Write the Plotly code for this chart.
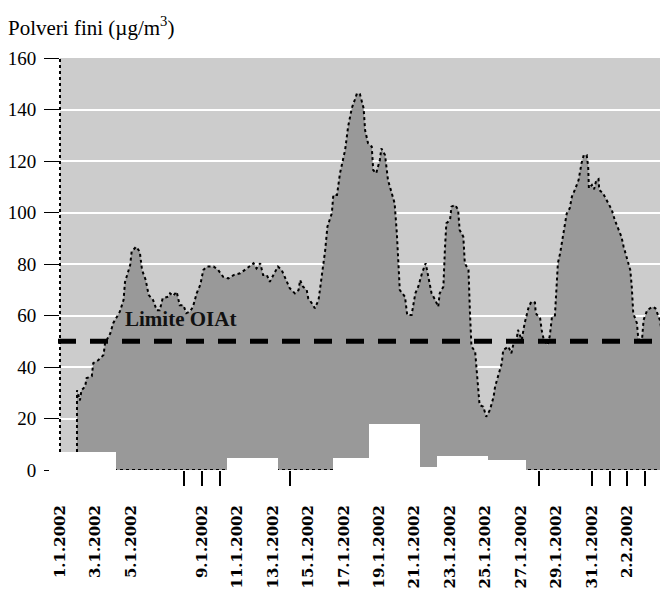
import pandas as pd
import plotly.graph_objects as go

# ---------------- data ----------------
series_start = "2002-01-01 00:00"
# hours since 1.1.2002 00:00
hours = [23, 27, 29, 34, 36, 43, 45, 52, 59, 61, 68, 72, 81, 86, 88, 95, 97, 103, 108, 111,
         116, 120, 126, 131, 135, 139, 147, 149, 153, 158, 160, 162, 167, 171, 176, 180, 185, 190, 194, 199,
         208, 214, 221, 228, 235, 244, 253, 262, 266, 271, 275, 280, 284, 289, 295, 300, 305, 311, 318, 323,
         325, 329, 334, 336, 341, 345, 350, 352, 356, 359, 362, 368, 370, 375, 379, 381, 386, 390, 395, 399,
         402, 406, 411, 413, 417, 422, 424, 428, 433, 435, 440, 444, 449, 453, 456, 458, 460, 467, 470, 476,
         481, 485, 490, 495, 499, 503, 508, 512, 514, 519, 521, 523, 528, 530, 535, 539, 541, 546, 548, 553,
         555, 557, 562, 564, 566, 568, 573, 577, 582, 587, 589, 593, 598, 600, 607, 611, 614, 618, 620, 625,
         629, 634, 638, 643, 644, 650, 652, 655, 660, 663, 666, 670, 672, 674, 677, 681, 686, 690, 693, 697,
         702, 706, 709, 713, 715, 716, 720, 723, 726, 729, 730, 735, 740, 747, 751, 756, 760, 763, 767, 772,
         774, 776, 781, 783, 788, 790, 795, 802, 806, 809, 812, 815, 816]
pm10 = [31, 27, 31, 32.4, 35.7, 36.4, 41.5, 42.7, 44.7, 49.3, 53, 57, 61.5, 66, 73, 79.6, 84.8, 86.7, 84.8, 77.7,
        73.8, 68, 66, 62, 62, 66.7, 67.3, 68.6, 67.6, 69.2, 66, 64, 64, 60.9, 61.5, 63.4, 68.6, 72, 77.7, 79,
        79, 77.7, 75, 74.4, 75.7, 76.4, 78.3, 80.3, 78.3, 80.3, 75.7, 75.7, 73.1, 75.7, 79, 77.7, 74.4, 70.6, 68.6, 69.9,
        73.8, 71.2, 69.9, 66.7, 64.7, 62.8, 66, 69.9, 77.7, 85.4, 94.5, 99.7, 106.8, 106.8, 115.2, 117.8, 124.3, 133.3, 140.5, 143.7,
        146.3, 146, 140.5, 132, 126.9, 125.6, 116.5, 115.2, 120.4, 124.9, 122.3, 112.6, 107.5, 103.6, 91.9, 79, 69.9, 67.3, 60.2, 60.2,
        68.6, 71.2, 76.4, 80.3, 73.8, 68.6, 66, 63.4, 68.6, 71.2, 85.4, 95.8, 97.1, 102.3, 102.9, 101, 93.2, 90.6, 80.3, 77.7,
        60.9, 48, 46, 38.8, 31.1, 25.2, 24.6, 20.7, 23.3, 28.5, 32.4, 36.2, 41.4, 46.6, 47.9, 45.3, 49.2, 50.5, 54.4, 50.5,
        57, 62.8, 65.4, 65, 60.9, 58.9, 54.4, 50.5, 48.5, 52, 59.5, 60, 71.2, 80.3, 84.1, 90.6, 99.7, 101.6, 106.2, 108.8,
        112.6, 119.1, 122.3, 122.3, 117.8, 109.4, 110.7, 109, 112.6, 113, 108.8, 107.5, 104.9, 101, 97.1, 93.2, 90.6, 86.7, 82.8, 77.7,
        71.2, 60.9, 57, 50.5, 51, 58.3, 62.1, 63.4, 62.8, 60.2, 58.3, 53.1, 52]

tick_dates = ["2002-01-01", "2002-01-03", "2002-01-05", "2002-01-09", "2002-01-11", "2002-01-13",
              "2002-01-15", "2002-01-17", "2002-01-19", "2002-01-21", "2002-01-23", "2002-01-25",
              "2002-01-27", "2002-01-29", "2002-01-31", "2002-02-02", "2002-02-04"]
tick_labels = ["1.1.2002", "3.1.2002", "5.1.2002", "9.1.2002", "11.1.2002", "13.1.2002",
               "15.1.2002", "17.1.2002", "19.1.2002", "21.1.2002", "23.1.2002", "25.1.2002",
               "27.1.2002", "29.1.2002", "31.1.2002", "2.2.2002", "4.2.2002"]
day_tick_dates = ["2002-01-08", "2002-01-09", "2002-01-10", "2002-01-14", "2002-01-28",
                  "2002-01-31", "2002-02-01", "2002-02-02", "2002-02-03", "2002-02-04"]
y_ticks = [0, 20, 40, 60, 80, 100, 120, 140, 160]
x_range = ["2002-01-01 00:00", "2002-02-04 03:00"]
y_range = [0, 160]

limit_value = 50
limit_label = "Limite OIAt"
title_text = "Polveri fini (µg/m<sup>3</sup>)"

assert len(hours) == len(pm10)

# ---------------- figure ----------------
t0 = pd.Timestamp(series_start)
times = [t0 + pd.Timedelta(hours=h) for h in hours]
xs = [times[0]] + times + [times[-1]]
ys = [0] + pm10 + [0]

# the page body adds an 8px offset; figure size compensates
W, H = 660, 582
ML, MR, MT, MB = 52, 3, 50, 120
PW, PH = W - ML - MR, H - MT - MB
PLOT_LEFT_WIN, PLOT_BOTTOM_WIN = 60, 470   # window-pixel positions


def px_x(x):
    return (x - PLOT_LEFT_WIN) / PW


def px_y(y):
    return (PLOT_BOTTOM_WIN - y) / PH


fig = go.Figure()
fig.add_trace(go.Scatter(
    x=xs, y=ys, mode="lines", fill="tozeroy", fillcolor="#999999",
    line=dict(color="black", width=2, dash="dot"), hoverinfo="skip"))

shapes = []
# white vertical line at right end
shapes.append(dict(type="line", layer="below", xref="x", yref="paper",
                   x0=times[-1], x1=times[-1], y0=0, y1=1,
                   line=dict(color="white", width=2)))
# axis lines (dotted)
shapes.append(dict(type="line", xref="paper", yref="paper", x0=0, x1=0, y0=0, y1=1,
                   line=dict(color="black", width=2, dash="dot")))
shapes.append(dict(type="line", xref="paper", yref="y", x0=0, x1=1, y0=0, y1=0,
                   line=dict(color="black", width=2, dash="dot")))
# limit line
shapes.append(dict(type="line", xref="paper", yref="y", x0=px_x(58), x1=px_x(652),
                   y0=limit_value, y1=limit_value,
                   line=dict(color="black", width=5, dash="18px,14px")))
# white masking boxes (as in the source image)
boxes = [(49, 116, 452, 492), (227, 278, 458, 495), (333, 369, 458, 495), (369, 420, 424, 495),
         (420, 437, 467, 495), (437, 488, 456, 495), (488, 526, 460, 495), (545, 580, 472, 500)]
for bx0, bx1, by0, by1 in boxes:
    shapes.append(dict(type="rect", xref="paper", yref="paper",
                       x0=px_x(bx0), x1=px_x(bx1), y0=px_y(by1), y1=px_y(by0),
                       fillcolor="white", line=dict(width=0)))

fig.update_layout(
    width=W, height=H,
    margin=dict(l=ML, r=MR, t=MT, b=MB, autoexpand=False),
    paper_bgcolor="white", plot_bgcolor="#CCCCCC",
    showlegend=False,
    font=dict(family="Liberation Serif", color="black", size=19),
    shapes=shapes,
    annotations=[
        dict(text=title_text, xref="paper", yref="paper", x=px_x(6), y=px_y(26),
             xanchor="left", yanchor="middle", showarrow=False,
             font=dict(family="Liberation Serif", size=21, color="black")),
        dict(text=limit_label, xref="paper", yref="y", x=px_x(123), y=58.6,
             xanchor="left", yanchor="middle", showarrow=False,
             font=dict(family="Liberation Serif", size=21, color="#111111", weight="bold")),
    ],
)

fig.update_xaxes(
    type="date", range=x_range,
    tickmode="array", tickvals=tick_dates, ticktext=tick_labels, tickangle=-90,
    tickfont=dict(family="DejaVu Serif", size=15, color="black", weight="bold"),
    ticks="outside", ticklen=1, tickcolor="rgba(0,0,0,0)", ticklabelstandoff=27,
    showgrid=False, zeroline=False, showline=False, automargin=False,
    minor=dict(tickmode="array", tickvals=day_tick_dates, ticks="outside", ticklen=15,
               tickcolor="black", tickwidth=1.5, showgrid=False),
)
fig.update_yaxes(
    range=y_range, tickmode="array", tickvals=y_ticks,
    ticks="outside", ticklen=15, tickcolor="black", tickwidth=1,
    tickfont=dict(family="Liberation Serif", size=19, color="black"),
    ticklabelstandoff=4, automargin=False,
    showgrid=True, gridcolor="white", gridwidth=2,
    zeroline=False, showline=False,
)

fig.write_html("out.html")
